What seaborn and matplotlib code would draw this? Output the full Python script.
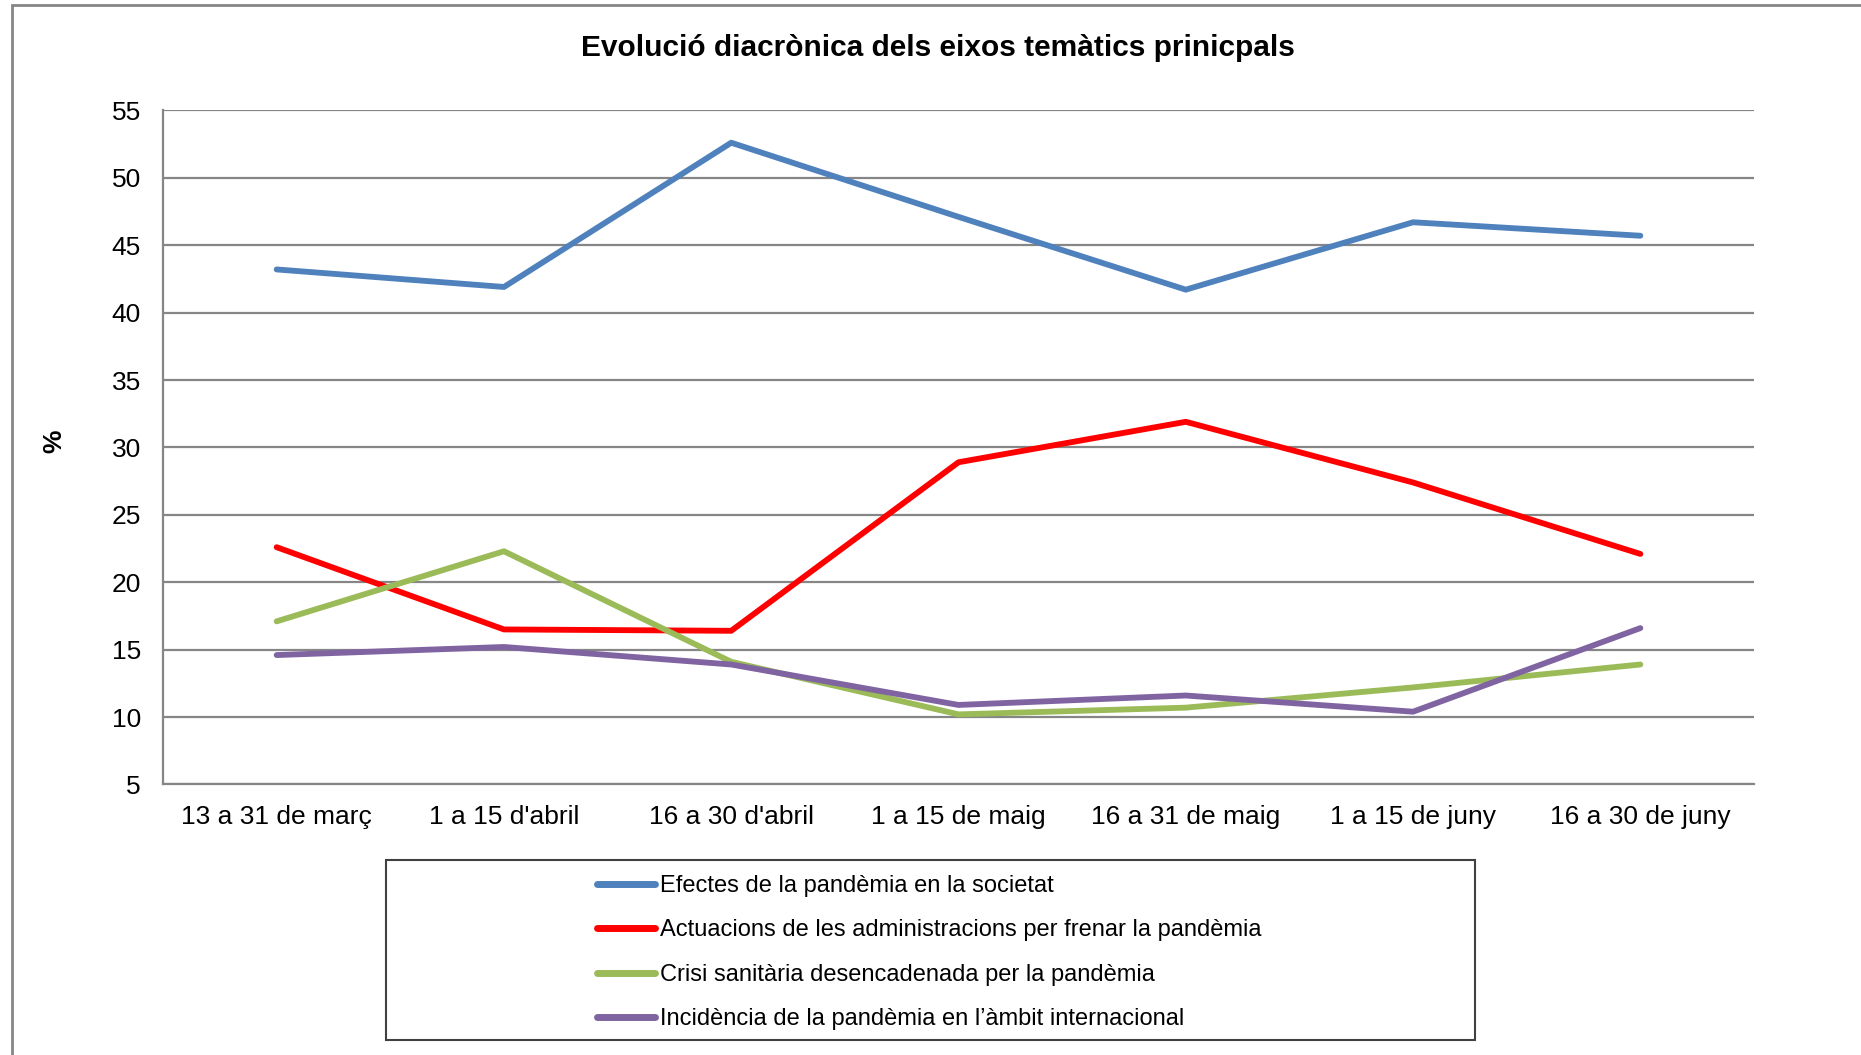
import matplotlib
matplotlib.use("Agg")
import matplotlib.pyplot as plt
from matplotlib.patches import Rectangle
import pandas as pd
import seaborn as sns

periods = ["13 a 31 de març", "1 a 15 d'abril", "16 a 30 d'abril", "1 a 15 de maig",
           "16 a 31 de maig", "1 a 15 de juny", "16 a 30 de juny"]
efectes = [43.2, 41.9, 52.6, 47.1, 41.7, 46.7, 45.7]
actuacions = [22.6, 16.5, 16.4, 28.9, 31.9, 27.4, 22.1]
crisi = [17.1, 22.3, 14.1, 10.2, 10.7, 12.2, 13.9]
incidencia = [14.6, 15.2, 13.9, 10.9, 11.6, 10.4, 16.6]

series_names = [
    "Efectes de la pandèmia en la societat",
    "Actuacions de les administracions per frenar la pandèmia",
    "Crisi sanitària desencadenada per la pandèmia",
    "Incidència de la pandèmia en l’àmbit internacional",
]
series_colors = ["#4F81BD", "#FF0000", "#9BBB59", "#8064A2"]
yticks = list(range(5, 60, 5))

rows = []
for name, vals in zip(series_names, [efectes, actuacions, crisi, incidencia]):
    for p, v in zip(periods, vals):
        rows.append({"periode": p, "valor": v, "eix": name})
df = pd.DataFrame(rows)

sns.set_style("white")
plt.rcParams["font.family"] = ["Liberation Sans", "DejaVu Sans"]
plt.rcParams["text.color"] = "black"

fig = plt.figure(figsize=(18.61, 10.55), dpi=100)
ax = fig.add_axes([0.0876, 0.2564, 0.8549, 0.639])

sns.lineplot(data=df, x="periode", y="valor", hue="eix", hue_order=series_names,
             palette=dict(zip(series_names, series_colors)), linewidth=4.2,
             sort=False, ax=ax, legend=False)

ax.set_xlim(-0.5, len(periods) - 0.5)
ax.set_ylim(5, 55)
ax.set_yticks(yticks)
ax.yaxis.grid(True, color="#868686", linewidth=1.6)
ax.set_axisbelow(True)
for s in ["top", "right"]:
    ax.spines[s].set_visible(False)
for s in ["left", "bottom"]:
    ax.spines[s].set_color("#868686")
    ax.spines[s].set_linewidth(1.6)
ax.tick_params(axis="both", length=0, labelsize=19, colors="black")
ax.tick_params(axis="x", pad=15)
ax.tick_params(axis="y", pad=16)
ax.set_xlabel("")
ax.set_ylabel("")

fig.text(0.504, 0.9547, "Evolució diacrònica dels eixos temàtics prinicpals",
         ha="center", va="center", fontsize=21.5, fontweight="bold", color="black")
fig.text(0.029, 0.582, "%", rotation=90, ha="center", va="center",
         fontsize=19, fontweight="bold", color="black")

# legend box
handles = [plt.Line2D([], [], color=c, linewidth=5) for c in series_colors]
leg = fig.legend(handles, series_names, loc="upper left", bbox_to_anchor=(0.3208, 0.1706),
                 bbox_transform=fig.transFigure, frameon=False, fontsize=17,
                 handlelength=2.45, handletextpad=0.2, labelspacing=0.95, borderpad=0,
                 borderaxespad=0)
for t in leg.get_texts():
    t.set_color("black")
fig.add_artist(Rectangle((386 / 1861, 1 - 1040 / 1055), 1089 / 1861, 180 / 1055,
                         transform=fig.transFigure, fill=False,
                         edgecolor="#404040", linewidth=1.5))

# outer frame of the document
fig.add_artist(Rectangle((12 / 1861, -0.1), 1.2, 1 - 5 / 1055 + 0.1,
                         transform=fig.transFigure, fill=False,
                         edgecolor="#868686", linewidth=2))

fig.savefig("out.png", dpi=100)
